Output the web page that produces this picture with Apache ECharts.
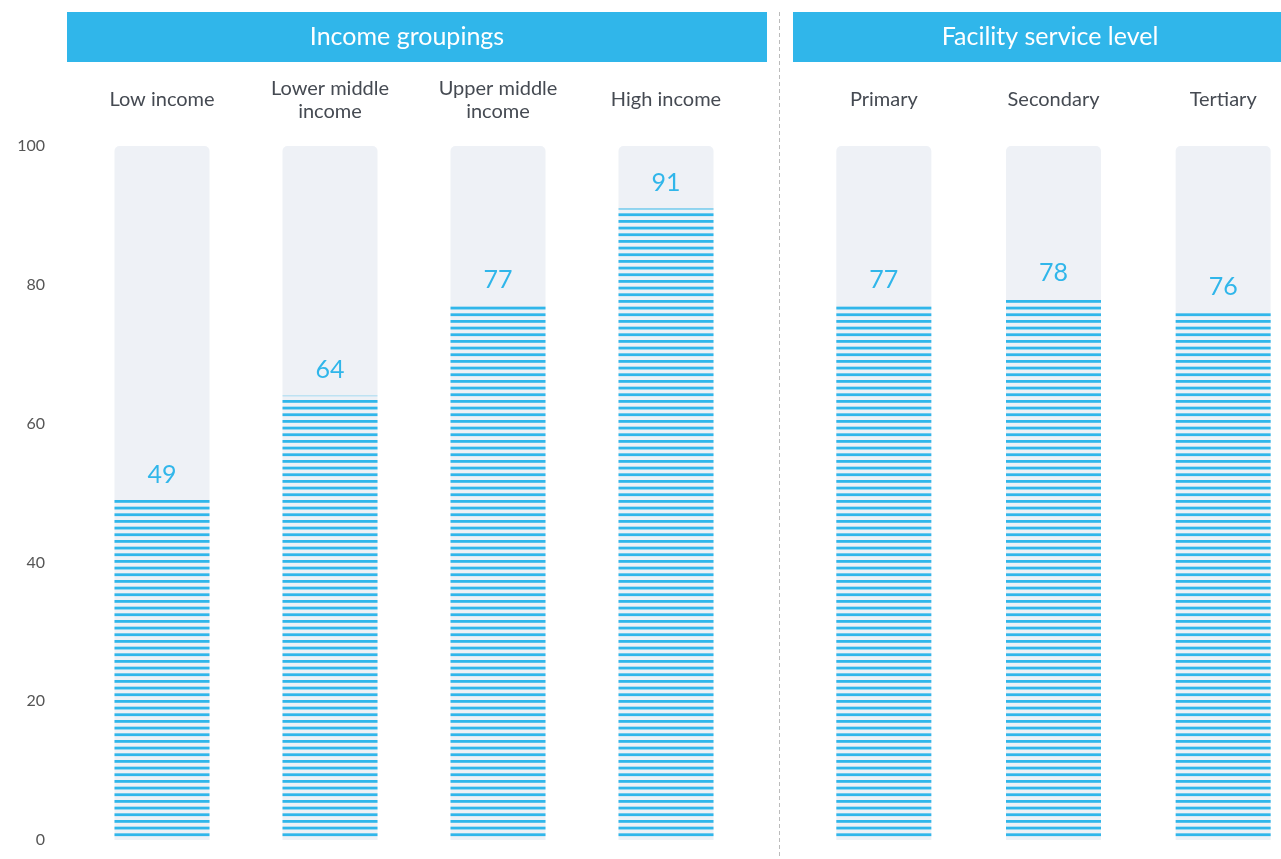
<!DOCTYPE html>
<html>
<head>
<meta charset="utf-8">
<style>
  html, body { margin: 0; padding: 0; background: #fff; }
  #main { width: 1281px; height: 859px; }
</style>
<script src="https://cdn.jsdelivr.net/npm/echarts@6/dist/echarts.min.js"></script>
</head>
<body>
<div id="main"></div>
<script>
// 数据
let incomeCats = ['Low income', 'Lower middle\nincome', 'Upper middle\nincome', 'High income'];
let incomeVals = [49, 64, 77, 91];
let facilityCats = ['Primary', 'Secondary', 'Tertiary'];
let facilityVals = [77, 78, 76];
let groupTitles = ['Income groupings', 'Facility service level'];
let yTicks = [0, 20, 40, 60, 80, 100];

let blue = '#30b6ea';
let font = 'Lato';

// 条纹填充
let makeStripes = () => {
  let c = document.createElement('canvas');
  c.width = 4;
  c.height = 20;
  let ctx = c.getContext('2d');
  ctx.fillStyle = blue;
  [0, 6.67, 13.33].forEach(y => ctx.fillRect(0, y, 4, 2.8));
  return c;
};
let stripes = makeStripes();

let barSeries = (idx, vals) => ({
  type: 'bar',
  xAxisIndex: idx,
  yAxisIndex: idx,
  data: vals,
  barWidth: 95,
  showBackground: true,
  backgroundStyle: { color: '#eef1f6', borderRadius: [5, 5, 0, 0] },
  itemStyle: { color: { image: stripes, repeat: 'repeat' } },
  label: {
    show: true,
    position: 'top',
    distance: 13,
    color: blue,
    fontSize: 25,
    fontFamily: font
  }
});

let catAxis = (idx, cats) => ({
  type: 'category',
  gridIndex: idx,
  data: cats,
  position: 'top',
  axisLine: { show: false },
  axisTick: { show: false },
  axisLabel: {
    margin: 46,
    verticalAlign: 'middle',
    color: '#454a52',
    fontSize: 20,
    lineHeight: 23,
    fontFamily: font
  }
});

let valAxis = (idx, showLabels) => ({
  type: 'value',
  gridIndex: idx,
  min: yTicks[0],
  max: yTicks[yTicks.length - 1],
  interval: 20,
  splitLine: { show: false },
  axisLine: { show: false },
  axisTick: { show: false },
  axisLabel: {
    show: showLabels,
    margin: 33,
    color: '#555',
    fontSize: 16,
    fontFamily: font
  }
});

let chart = echarts.init(document.getElementById('main'));
chart.setOption({
  animation: false,
  grid: [
    { left: 78, width: 672, top: 146, bottom: 19, outerBoundsMode: 'none' },
    { left: 799, width: 509, top: 146, bottom: 19, outerBoundsMode: 'none' }
  ],
  xAxis: [catAxis(0, incomeCats), catAxis(1, facilityCats)],
  yAxis: [valAxis(0, true), valAxis(1, false)],
  series: [barSeries(0, incomeVals), barSeries(1, facilityVals)],
  graphic: [
    // 标题栏
    { type: 'rect', left: 67, top: 12, shape: { width: 700, height: 50 }, style: { fill: blue } },
    { type: 'rect', left: 793, top: 12, shape: { width: 488, height: 50 }, style: { fill: blue } },
    {
      type: 'text', x: 407, y: 37,
      style: { text: groupTitles[0], fill: '#fff', font: '25px ' + font, align: 'center', verticalAlign: 'middle' }
    },
    {
      type: 'text', x: 1050, y: 37,
      style: { text: groupTitles[1], fill: '#fff', font: '25px ' + font, align: 'center', verticalAlign: 'middle' }
    },
    // 分隔虚线
    {
      type: 'line',
      shape: { x1: 779.5, y1: 12, x2: 779.5, y2: 859 },
      style: { stroke: '#bbb', lineWidth: 1, lineDash: [4, 3] }
    }
  ]
});
</script>
</body>
</html>
